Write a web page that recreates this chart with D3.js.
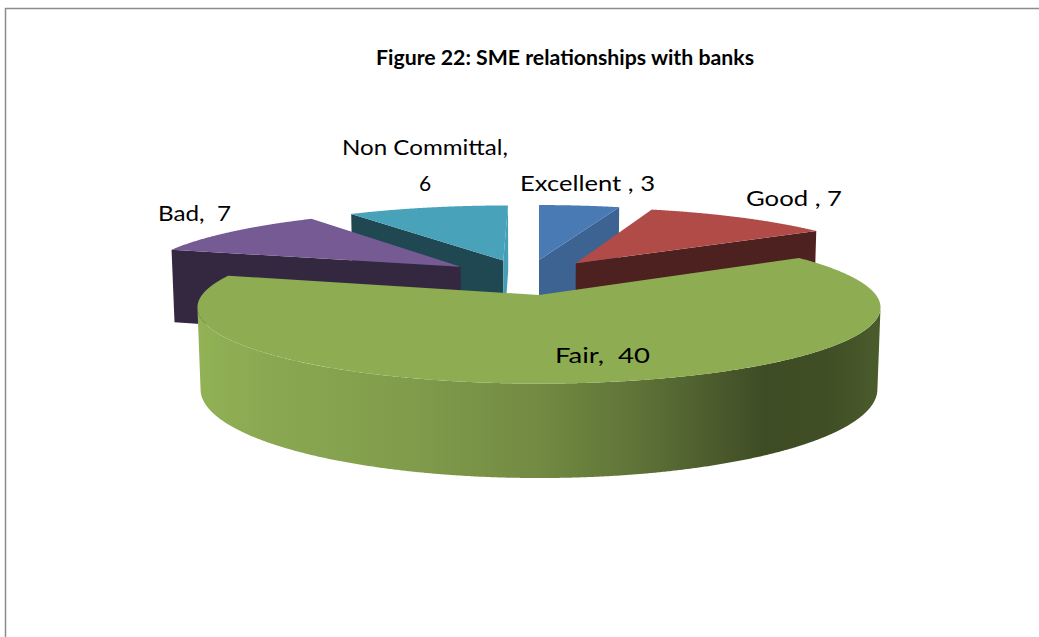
<!DOCTYPE html>
<html>
<head>
<meta charset="utf-8">
<script src="https://cdn.jsdelivr.net/npm/d3@7"></script>
<style>
  html, body { margin: 0; padding: 0; background: #ffffff; }
  svg { display: block; }
</style>
</head>
<body>
<svg id="chart" width="1039" height="637"></svg>
<script>
// ---- data ----
const categories = ["Excellent", "Good", "Fair", "Bad", "Non Committal"];
const values = [3, 7, 40, 7, 6];
const separators = [" , ", " , ", ",  ", ",  ", ","];
const chartTitle = "Figure 22: SME relationships with banks";

// ---- style ----
const topColors = ["#4A7AB3", "#B04B48", "#8EAD53", "#765A93", "#48A3BA"];
const labelFont = "Lato, 'Open Sans', sans-serif";

// label layout (centre x, baseline y, width, second line baseline)
const labelLayout = {
  "Excellent":     { x: 587.5, y: 191, w: 135 },
  "Good":          { x: 794,   y: 206, w: 96 },
  "Fair":          { x: 602.5, y: 363, w: 95 },
  "Bad":           { x: 194.5, y: 221, w: 73 },
  "Non Committal": { x: 425,   y: 155, w: 166, y2: 191 }
};

const W = 1039, H = 637;
const svg = d3.select("#chart");

// frame
svg.append("path")
  .attr("d", `M${W},8.5 H5.5 V${H}`)
  .attr("fill", "none")
  .attr("stroke", "#8c8c8c")
  .attr("stroke-width", 1.5);

// title
svg.append("text")
  .attr("x", 565).attr("y", 65)
  .attr("text-anchor", "middle")
  .attr("font-family", labelFont)
  .attr("font-weight", "bold")
  .attr("font-size", 20)
  .attr("fill", "#000")
  .attr("textLength", 378)
  .attr("lengthAdjust", "spacingAndGlyphs")
  .text(chartTitle);

// ---- 3-D view setup (pie of unit radius in the x/y plane, y pointing away) ----
const tilt = 12.72 * Math.PI / 180;
const sinT = Math.sin(tilt), cosT = Math.cos(tilt);
const persp = 0.167;          // radius / camera distance
const scale = 337;            // screen pixels per unit radius at aim depth
const screenX = 539, screenY = 295;
const explode = 0.258;
const thickness = 0.2455;
// camera aims at the centre of the biggest (front) slice
const aim = { x: 0.0385, y: -0.2555 };
const cam = { x: aim.x, y: aim.y - cosT / persp };

function project(x, y, z) {
  const X = x - aim.x, Y = y - aim.y;
  const d = 1 + persp * (Y * cosT - z * sinT);
  return [screenX + scale * X / d, screenY - scale * (Y * sinT + z * cosT) / d];
}
const line = pts => "M" + pts.map(p => p[0].toFixed(2) + "," + p[1].toFixed(2)).join("L") + "Z";

const pie = d3.pie().sort(null).value(d => d.value);
const slices = pie(categories.map((c, i) => ({ name: c, value: values[i], idx: i })));

slices.forEach(s => {
  const m = (s.startAngle + s.endAngle) / 2;
  s.mid = m;
  s.ox = explode * Math.sin(m);
  s.oy = explode * Math.cos(m);
});

const shade = (col, k) => {
  const c = d3.rgb(col);
  return d3.rgb(c.r * k, c.g * k, c.b * k).formatHex();
};
// brightness of a flat cut face from the direction of its normal
const cutShade = phi => {
  const t = Math.max(0, Math.min(1, (Math.cos(phi - Math.PI / 2) - 0.85) / 0.15));
  return 0.44 + 0.53 * t;
};

// gradient for curved outer walls
const defs = svg.append("defs");
slices.forEach(s => {
  const g = defs.append("linearGradient").attr("id", "wall" + s.data.idx)
    .attr("x1", 0).attr("x2", 1).attr("y1", 0).attr("y2", 0);
  const stops = [[0, 1.03], [0.1, 0.97], [0.3, 0.91], [0.5, 0.8], [0.65, 0.66],
                 [0.83, 0.44], [0.92, 0.45], [1, 0.53]];
  stops.forEach(([o, k]) => g.append("stop").attr("offset", o).attr("stop-color", shade(topColors[s.data.idx], k)));
});

// back-to-front drawing order
const order = slices.slice().sort((a, b) => Math.cos(b.mid) - Math.cos(a.mid));
const gPie = svg.append("g");

order.forEach(s => {
  const col = topColors[s.data.idx];
  const g = gPie.append("g");
  const { ox, oy } = s;
  const rim = (t, z) => project(ox + Math.sin(t), oy + Math.cos(t), z);
  const hub = z => project(ox, oy, z);

  // flat cut faces at both radial edges
  [[s.startAngle, -1], [s.endAngle, 1]].forEach(([a, side]) => {
    const nx = side * Math.cos(a), ny = -side * Math.sin(a);
    const vis = nx * (cam.x - ox) + ny * (cam.y - oy);
    if (vis <= 1e-6) return;
    const phi = Math.atan2(nx, ny);
    g.append("path")
      .attr("d", line([hub(0), rim(a, 0), rim(a, -thickness), hub(-thickness)]))
      .attr("fill", shade(col, cutShade(phi)));
  });

  // curved outer wall: only the parts facing the camera
  const step = 0.25 * Math.PI / 180;
  const runs = [];
  let cur = null;
  for (let t = s.startAngle; t <= s.endAngle + 1e-9; t += step) {
    const tt = Math.min(t, s.endAngle);
    const px = ox + Math.sin(tt), py = oy + Math.cos(tt);
    const v = Math.sin(tt) * (cam.x - px) + Math.cos(tt) * (cam.y - py);
    if (v > 0) { if (!cur) { cur = []; runs.push(cur); } cur.push(tt); }
    else cur = null;
  }
  runs.forEach(r => {
    if (r.length < 2) return;
    const pts = r.map(t => rim(t, 0)).concat(r.slice().reverse().map(t => rim(t, -thickness)));
    g.append("path").attr("d", line(pts)).attr("fill", `url(#wall${s.data.idx})`);
  });

  // top face
  const topPts = [hub(0)];
  const n = Math.max(8, Math.ceil((s.endAngle - s.startAngle) / step));
  for (let i = 0; i <= n; i++) {
    topPts.push(rim(s.startAngle + (s.endAngle - s.startAngle) * i / n, 0));
  }
  g.append("path").attr("d", line(topPts)).attr("fill", col);
});

// ---- data labels ----
const gLab = svg.append("g")
  .attr("font-family", labelFont)
  .attr("font-size", 21)
  .attr("fill", "#000")
  .attr("text-anchor", "middle");

slices.forEach(s => {
  const name = s.data.name, L = labelLayout[name];
  const sep = separators[s.data.idx];
  if (L.y2 !== undefined) {
    gLab.append("text").attr("x", L.x).attr("y", L.y)
      .attr("textLength", L.w).attr("lengthAdjust", "spacingAndGlyphs")
      .text(name + sep);
    gLab.append("text").attr("x", L.x).attr("y", L.y2).text(s.data.value);
  } else {
    gLab.append("text").attr("x", L.x).attr("y", L.y)
      .attr("textLength", L.w).attr("lengthAdjust", "spacingAndGlyphs")
      .style("white-space", "pre")
      .text(name + sep + s.data.value);
  }
});
</script>
</body>
</html>
